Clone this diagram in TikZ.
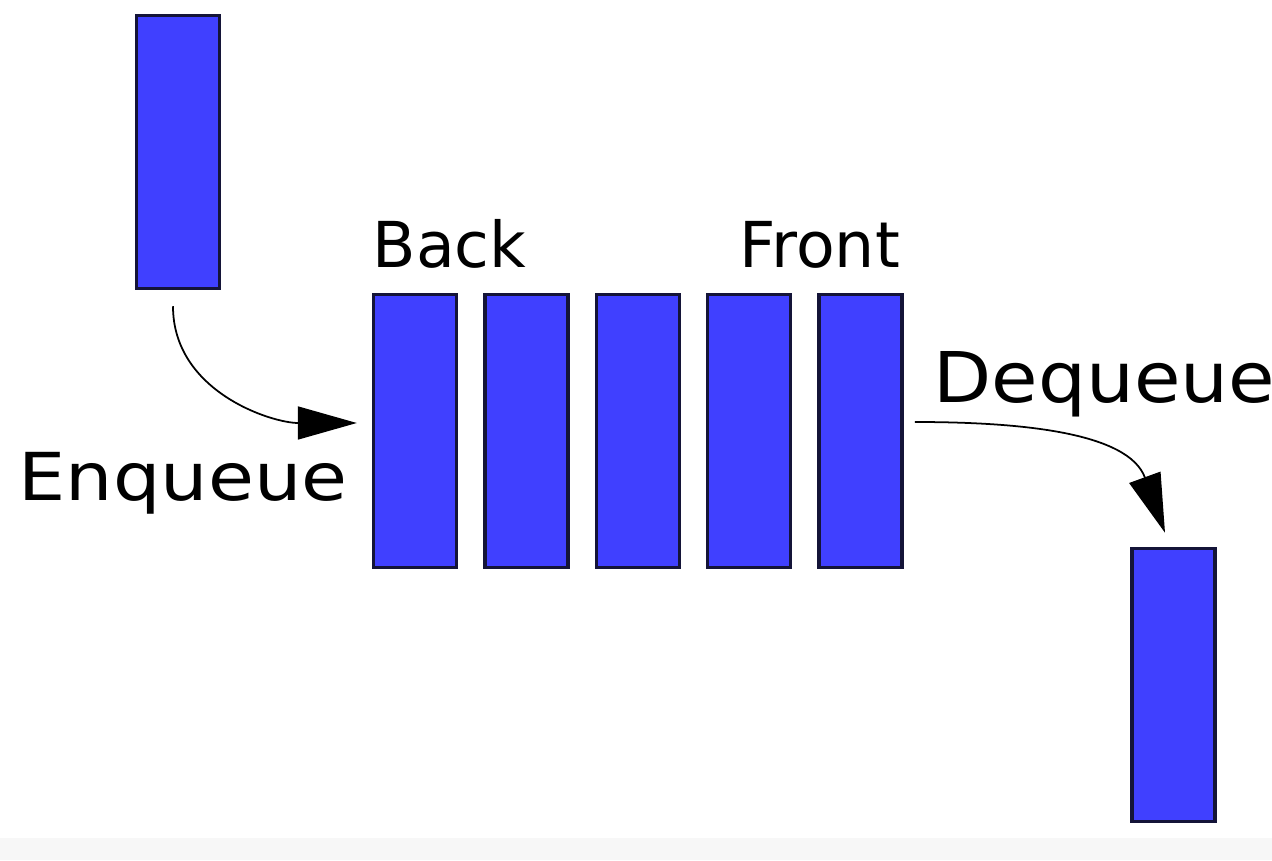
\documentclass[tikz,border=0pt]{standalone}
\usepackage{fontspec}
\setmainfont{DejaVu Sans}
\newfontfamily\enqfont[FakeStretch=1.13]{DejaVu Sans}
\newfontfamily\deqfont[FakeStretch=1.08]{DejaVu Sans}
\usetikzlibrary{arrows.meta, positioning}

\definecolor{itemblue}{RGB}{64,64,255}
\definecolor{itemline}{RGB}{20,20,56}
\definecolor{stripgray}{RGB}{247,247,247}

\begin{document}
\begin{tikzpicture}[
    x=0.01cm, y=0.01cm,
    node distance=0.25cm,
    item/.style={rectangle, draw=itemline, fill=itemblue, line width=0.95pt, minimum width=0.83cm, minimum height=2.73cm, inner sep=0pt},
    tag/.style={anchor=base west, inner sep=0pt, font=\fontsize{18}{22}\selectfont},
    arrow/.style={-{Triangle[length=0.59cm, width=0.33cm]}, line width=0.5pt}
]
    % Canvas
    \useasboundingbox (0,0) rectangle (1272,860);
    \fill[white] (0,0) rectangle (1272,860);
    \fill[stripgray] (0,0) rectangle (1272,22);

    % Queue
    \node[item] (q1) at (415,429) {};
    \node[item, right=of q1] (q2) {};
    \node[item, right=of q2] (q3) {};
    \node[item, right=of q3] (q4) {};
    \node[item, right=of q4] (q5) {};

    % Incoming and outgoing items
    \node[item] (inbox) at (178,708) {};
    \node[item] (outbox) at (1173.5,175) {};

    % Labels
    \node[tag] (back) at (372,592) {Back};
    \node[tag] (front) at (739,592) {Front};
    \node[anchor=base west, inner sep=0pt, font=\fontsize{18.8}{22}\enqfont] (enq) at (18,360) {Enqueue};
    \node[anchor=base west, inner sep=0pt, font=\fontsize{19.9}{23}\deqfont] (deq) at (933,457) {Dequeue};

    % Arrows
    \draw[arrow] ([shift={(-5,-16)}]inbox.south) to[out=-90, in=180] ([shift={(-15,8)}]q1.west);
    \draw[arrow] ([shift={(11,9)}]q5.east) to[out=0, in=110] ([shift={(-8.5,14)}]outbox.north);
\end{tikzpicture}
\end{document}
